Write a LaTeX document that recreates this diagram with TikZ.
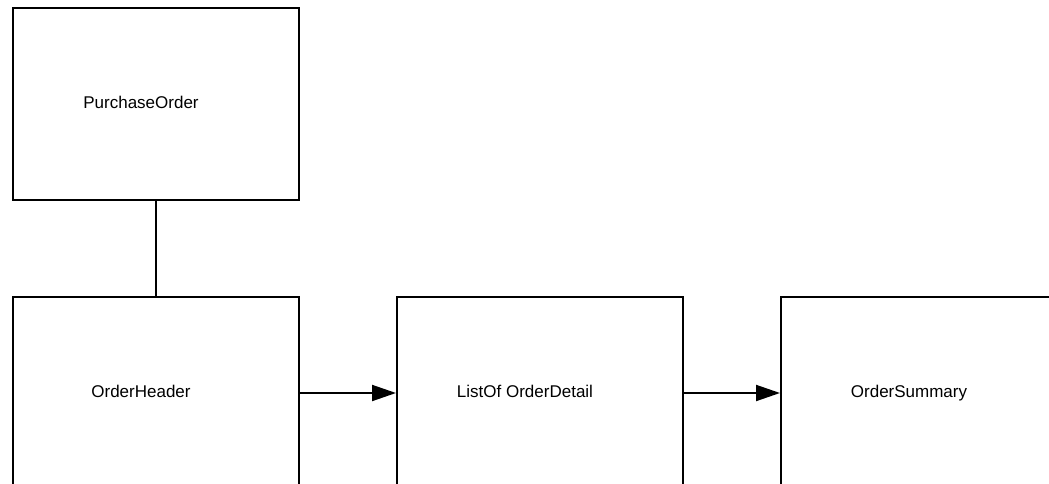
\documentclass[tikz,border=0pt]{standalone}
\usepackage{fontspec}
\setmainfont{Liberation Sans}
\usepackage{tikz}
\usetikzlibrary{positioning, arrows.meta}

\begin{document}
\begin{tikzpicture}[
      node distance=95pt and 96pt,
      box/.style={draw, line width=2pt, inner sep=0pt, minimum width=286pt, minimum height=192pt},
      boxtext/.style={font=\fontsize{17}{20}\selectfont, text height=12pt, text depth=3.5pt, xshift=-15pt},
      link/.style={line width=2pt},
      arr/.style={line width=2pt, -{Triangle[length=24pt, width=16pt]}}
    ]
    \useasboundingbox (0,0) rectangle (1049pt,-484pt);

    \node[box, label={[boxtext, name=potext]center:PurchaseOrder}] (po) at (156pt,-104pt) {};
    \node[box, below=of po, label={[boxtext, name=hdrtext]center:OrderHeader}] (hdr) {};
    \node[box, right=of hdr, label={[boxtext, name=dettext]center:ListOf OrderDetail}] (det) {};
    \node[box, right=of det, label={[boxtext, name=sumtext]center:OrderSummary}] (sum) {};

    \draw[link] (po) -- (hdr);
    \draw[arr] (hdr) -- (det);
    \draw[arr] (det) -- (sum);
  \end{tikzpicture}
\end{document}
